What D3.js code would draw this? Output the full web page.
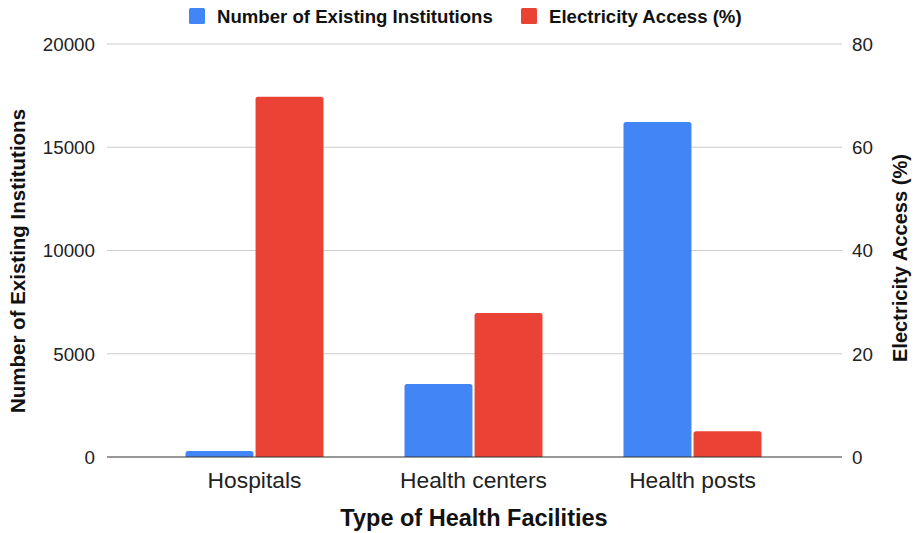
<!DOCTYPE html>
<html>
<head>
<meta charset="utf-8">
<script src="https://cdn.jsdelivr.net/npm/d3@7"></script>
<style>
  body { margin: 0; background: #fff; }
  svg { font-family: "Liberation Sans", Arial, sans-serif; }
</style>
</head>
<body>
<svg id="chart" width="915" height="533"></svg>
<script>
const categories = ['Hospitals', 'Health centers', 'Health posts'];
const institutions = [290, 3530, 16220];
const electricity = [69.8, 27.9, 5.0];
const leftTicks = [0, 5000, 10000, 15000, 20000];
const rightTicks = [0, 20, 40, 60, 80];
const seriesNames = ['Number of Existing Institutions', 'Electricity Access (%)'];
const colors = ['#4285F4', '#EA4335'];

const svg = d3.select('#chart');

const plotLeft = 107, plotRight = 842, plotTop = 44, plotBottom = 457;

const x = d3.scaleBand()
    .domain(categories)
    .range([145, 802]);

const groupW = 138;
const xSub = d3.scaleBand()
    .domain([0, 1])
    .range([(x.bandwidth() - groupW) / 2, (x.bandwidth() + groupW) / 2])
    .paddingInner(0.03);

const yLeft = d3.scaleLinear().domain([0, 20000]).range([plotBottom, plotTop]);
const yRight = d3.scaleLinear().domain([0, 80]).range([plotBottom, plotTop]);

// gridlines
svg.append('g')
    .selectAll('line')
    .data(leftTicks.filter(d => d > 0))
    .join('line')
    .attr('x1', plotLeft)
    .attr('x2', plotRight)
    .attr('y1', d => yLeft(d))
    .attr('y2', d => yLeft(d))
    .attr('stroke', '#cccccc')
    .attr('stroke-width', 1);

// left ticks
svg.append('g')
    .selectAll('text')
    .data(leftTicks)
    .join('text')
    .attr('x', 95)
    .attr('y', d => yLeft(d))
    .attr('dy', '0.36em')
    .attr('text-anchor', 'end')
    .attr('font-size', 18.8)
    .attr('fill', '#222')
    .text(d => d);

// right ticks
svg.append('g')
    .selectAll('text')
    .data(rightTicks)
    .join('text')
    .attr('x', 852)
    .attr('y', d => yRight(d))
    .attr('dy', '0.36em')
    .attr('text-anchor', 'start')
    .attr('font-size', 18.8)
    .attr('fill', '#222')
    .text(d => d);

// bars with rounded top corners
const barPath = (x0, w, y0, yb, r) => {
    const rr = Math.min(r, (yb - y0) / 2, w / 2);
    return `M${x0},${yb}V${y0 + rr}Q${x0},${y0} ${x0 + rr},${y0}H${x0 + w - rr}Q${x0 + w},${y0} ${x0 + w},${y0 + rr}V${yb}Z`;
};

const groups = svg.append('g')
    .selectAll('g')
    .data(categories)
    .join('g')
    .attr('transform', d => `translate(${x(d)},0)`);

groups.append('path')
    .attr('fill', colors[0])
    .attr('d', (d, i) => barPath(xSub(0), xSub.bandwidth(), yLeft(institutions[i]), plotBottom, 2.5));

groups.append('path')
    .attr('fill', colors[1])
    .attr('d', (d, i) => barPath(xSub(1), xSub.bandwidth(), yRight(electricity[i]), plotBottom, 2.5));

// baseline
svg.append('line')
    .attr('x1', plotLeft)
    .attr('x2', plotRight)
    .attr('y1', plotBottom)
    .attr('y2', plotBottom)
    .attr('stroke', '#333')
    .attr('stroke-width', 1.2);

// x labels
svg.append('g')
    .selectAll('text')
    .data(categories)
    .join('text')
    .attr('x', d => x(d) + x.bandwidth() / 2)
    .attr('y', 488)
    .attr('text-anchor', 'middle')
    .attr('font-size', 22.8)
    .attr('fill', '#222')
    .text(d => d);

// axis titles
svg.append('text')
    .attr('x', 474)
    .attr('y', 526)
    .attr('text-anchor', 'middle')
    .attr('font-size', 23.5)
    .attr('font-weight', 'bold')
    .attr('fill', '#111')
    .text('Type of Health Facilities');

svg.append('text')
    .attr('transform', 'translate(25,261) rotate(-90)')
    .attr('text-anchor', 'middle')
    .attr('font-size', 20.5)
    .attr('font-weight', 'bold')
    .attr('fill', '#111')
    .text('Number of Existing Institutions');

svg.append('text')
    .attr('transform', 'translate(907,258) rotate(-90)')
    .attr('text-anchor', 'middle')
    .attr('font-size', 20.1)
    .attr('font-weight', 'bold')
    .attr('fill', '#111')
    .text('Electricity Access (%)');

// legend
const legend = svg.append('g');
const legendX = [189, 521];
seriesNames.forEach((name, i) => {
    legend.append('rect')
        .attr('x', legendX[i])
        .attr('y', 8)
        .attr('width', 16)
        .attr('height', 16)
        .attr('rx', 1.5)
        .attr('fill', colors[i]);
    legend.append('text')
        .attr('x', legendX[i] + 28)
        .attr('y', 22.7)
        .attr('font-size', 18.6)
        .attr('font-weight', 'bold')
        .attr('fill', '#111')
        .text(name);
});
</script>
</body>
</html>
